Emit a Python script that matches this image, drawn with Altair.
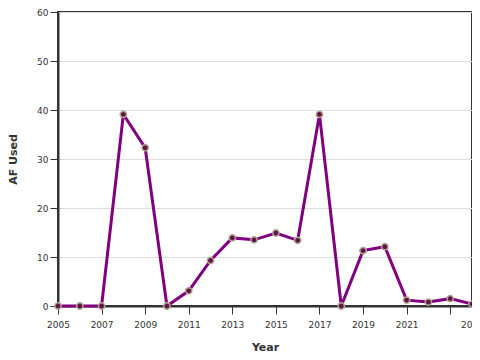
import altair as alt
import pandas as pd

years = [2005, 2006, 2007, 2008, 2009, 2010, 2011, 2012, 2013, 2014,
         2015, 2016, 2017, 2018, 2019, 2020, 2021, 2022, 2023, 2024]
af_used = [0, 0, 0, 39.1, 32.3, 0, 3.1, 9.3, 13.9, 13.5,
           14.9, 13.4, 39.1, 0, 11.3, 12.1, 1.2, 0.8, 1.5, 0.4]
x_ticks = [2005, 2007, 2009, 2011, 2013, 2015, 2017, 2019, 2021, 2023, 2024]
y_ticks = [0, 10, 20, 30, 40, 50, 60]

df = pd.DataFrame({"Year": years, "AF Used": af_used})

x = alt.X("Year:Q", title="Year",
          scale=alt.Scale(domain=[2005, 2024], nice=False, zero=False),
          axis=alt.Axis(values=x_ticks, format="d", grid=False,
                        labelFlush=False,
                        labelExpr="datum.value == 2023 ? '' : datum.label",
                        tickSize=8, labelPadding=6, titlePadding=12))
y = alt.Y("AF Used:Q", title="AF Used",
          scale=alt.Scale(domain=[0, 60], nice=False),
          axis=alt.Axis(values=y_ticks, grid=True, gridColor="#dddddd",
                        tickSize=8, labelPadding=2, titlePadding=18))

base = alt.Chart(df).encode(x=x, y=y)
line = base.mark_line(color="#800080", strokeWidth=3)
pts = base.mark_point(filled=True, fill="#5e1648", stroke="#b3a58f",
                      strokeWidth=1.5, size=40, opacity=1)

chart = (line + pts).properties(
    width=414, height=294,
    autosize=alt.AutoSizeParams(type="none"),
    padding={"left": 50, "top": 4, "right": 0, "bottom": 46},
).configure_view(stroke="#333333", strokeWidth=2).configure_axis(
    domainColor="#333333", domainWidth=2, tickColor="#333333",
    labelColor="#333333", titleColor="#333333",
    labelFont="DejaVu Sans", titleFont="DejaVu Sans",
    labelFontSize=9, titleFontSize=11
)

chart.save("out.html", embed_options={"renderer": "svg", "actions": False})
